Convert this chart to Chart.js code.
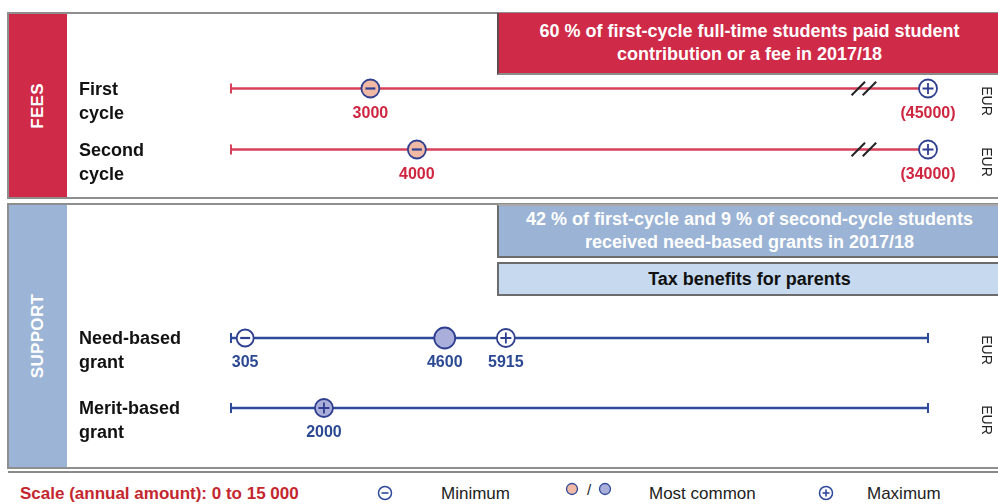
<!DOCTYPE html>
<html><head><meta charset="utf-8">
<script src="https://cdn.jsdelivr.net/npm/chart.js@4.4.0/dist/chart.umd.min.js"></script>
<style>
html,body{margin:0;padding:0;background:#fff;}
body{width:998px;height:504px;overflow:hidden;position:relative;font-family:'Liberation Sans',Arial,Helvetica,sans-serif;}
.abs{position:absolute;box-sizing:border-box;}
.panel{border:2px solid #8e8e8e;}
.band{color:#fff;font-weight:bold;font-size:17px;}
.band span{position:absolute;left:50%;top:50%;transform:translate(-50%,-50%) rotate(-90deg);white-space:nowrap;letter-spacing:0.3px;}
.hdr{font-weight:bold;font-size:18px;line-height:23px;text-align:center;display:flex;align-items:center;justify-content:center;}
.rowlbl{position:absolute;left:79px;font-weight:bold;font-size:18px;line-height:24px;color:#111;white-space:nowrap;}
.unit{position:absolute;font-size:14px;color:#222;transform:translate(-50%,-50%) rotate(90deg);white-space:nowrap;}
.leg{position:absolute;top:484px;font-size:17px;line-height:20px;color:#222;white-space:nowrap;}
canvas{position:absolute;left:0;}
</style></head><body>

<div class="abs panel" style="left:7px;top:12px;width:1000px;height:187px;"></div>
<div class="abs band" style="left:9px;top:14px;width:58px;height:183px;background:#cf2a48;"><span>FEES</span></div>
<div class="abs hdr" style="left:497px;top:13px;width:503px;height:62px;background:#cf2a48;color:#fff;border-left:2px solid #5e4a4f;border-bottom:2px solid #8a8a8a;">60 % of first-cycle full-time students paid student<br>contribution or a fee in 2017/18</div>

<div class="abs panel" style="left:7px;top:203px;width:1000px;height:266px;"></div>
<div class="abs band" style="left:9px;top:205px;width:58px;height:262px;background:#9cb4d6;"><span>SUPPORT</span></div>
<div class="abs hdr" style="left:497px;top:204px;width:503px;height:54px;background:#9bb3d4;color:#fff;border:2px solid #6c6c6c;border-top-color:#a8a8a8;border-right:none;">42 % of first-cycle and 9 % of second-cycle students<br>received need-based grants in 2017/18</div>
<div class="abs hdr" style="left:497px;top:262px;width:503px;height:34px;background:#c6d9ef;color:#111;border:2px solid #6c6c6c;border-right:none;">Tax benefits for parents</div>

<div class="abs" style="left:8px;top:471px;width:990px;height:2px;background:#8a8a8a;"></div>

<canvas id="fees" width="998" height="160" style="top:40px;"></canvas>
<canvas id="support" width="998" height="170" style="top:290px;"></canvas>

<div class="leg" style="left:20px;color:#c4262e;font-weight:bold;">Scale (annual amount): 0 to 15 000</div>
<svg class="abs" style="left:376px;top:484px;" width="18" height="18"><circle cx="9" cy="9" r="6.5" fill="#fff" stroke="#2e4a9a" stroke-width="1.5"/><line x1="5.5" y1="9" x2="12.5" y2="9" stroke="#2e4a9a" stroke-width="1.6"/></svg>
<div class="leg" style="left:441px;">Minimum</div>
<svg class="abs" style="left:564px;top:481px;" width="50" height="18"><circle cx="8" cy="8" r="5.5" fill="#efb9a6" stroke="#2e4a9a" stroke-width="1.3"/><text x="25" y="14" font-size="15" text-anchor="middle" fill="#222" font-family="Liberation Sans, Arial">/</text><circle cx="41" cy="8" r="5.5" fill="#a9aedb" stroke="#2e4a9a" stroke-width="1.3"/></svg>
<div class="leg" style="left:649px;">Most common</div>
<svg class="abs" style="left:817px;top:484px;" width="18" height="18"><circle cx="9" cy="9" r="6.5" fill="#fff" stroke="#2e4a9a" stroke-width="1.5"/><line x1="5.5" y1="9" x2="12.5" y2="9" stroke="#2e4a9a" stroke-width="1.6"/><line x1="9" y1="5.5" x2="9" y2="12.5" stroke="#2e4a9a" stroke-width="1.6"/></svg>
<div class="leg" style="left:867px;">Maximum</div>

<script>
// ---- data ----
const scaleMin = 0;
const scaleMax = 15000;
const feeCategories = [['First', 'cycle'], ['Second', 'cycle']];
const feeMin = [3000, 4000];
const feeMax = [45000, 34000];
const grantCategories = [['Need-based', 'grant'], ['Merit-based', 'grant']];
const grantMin = [305, null];
const grantCommon = [4600, null];
const grantMax = [5915, 2000];
const unitLabel = 'EUR';

// ---- styles ----
const RED = '#d6405a', RED_TXT = '#cf2640', BLUE = '#2e4a9a', BLUE_TXT = '#2b4992';
const PEACH = '#efb9a6', LAV = '#a9aedb', MARK = '#2f3f8f';
const FONT = "'Liberation Sans', Arial, sans-serif";

const catName = c => c.join(' ');

function pts(cats, vals, fmt) {
  const out = [];
  vals.forEach((v, i) => {
    if (v == null) return;
    out.push({ x: Math.min(v, scaleMax), y: catName(cats[i]), lbl: fmt ? fmt(v) : null });
  });
  return out;
}
const fmtVal = v => (v > scaleMax ? '(' + v + ')' : String(v));

const valueLabelPlugin = {
  id: 'valueLabels',
  afterDatasetsDraw(chart) {
    const ctx = chart.ctx;
    ctx.save();
    ctx.font = 'bold 16px ' + FONT;
    ctx.textAlign = 'center';
    ctx.textBaseline = 'middle';
    chart.data.datasets.forEach((ds, di) => {
      if (!ds.labelColor) return;
      const meta = chart.getDatasetMeta(di);
      ctx.fillStyle = ds.labelColor;
      ds.data.forEach((d, i) => {
        if (!d.lbl) return;
        const el = meta.data[i];
        ctx.fillText(d.lbl, el.x, el.y + 25);
      });
    });
    ctx.restore();
  }
};

function rowLine(c, color) {
  return { data: [{ x: scaleMin, y: catName(c) }, { x: scaleMax, y: catName(c) }], showLine: true, borderColor: color,
           borderWidth: 2.6, pointRadius: 0, clip: false };
}
function markerSet(data, style, opts) {
  return Object.assign({ data, pointStyle: style, clip: false, showLine: false }, opts);
}

function makeChart(id, cats, datasets, pad) {
  const chart = new Chart(document.getElementById(id), {
    type: 'scatter',
    data: { labels: cats.map(catName), datasets },
    options: {
      responsive: false, animation: false, events: [],
      layout: { padding: pad },
      plugins: { legend: { display: false }, tooltip: { enabled: false } },
      scales: {
        x: { type: 'linear', min: scaleMin, max: scaleMax, display: false },
        y: { type: 'category', offset: true, display: false }
      }
    },
    plugins: [valueLabelPlugin]
  });
  const top = parseFloat(document.getElementById(id).style.top);
  cats.forEach((c, i) => {
    const y = chart.scales.y.getPixelForValue(i) + top;
    const d = document.createElement('div');
    d.className = 'rowlbl';
    d.style.top = (y - 12) + 'px';
    d.innerHTML = c.join('<br>');
    document.body.appendChild(d);
    const u = document.createElement('div');
    u.className = 'unit';
    u.style.left = '987px';
    u.style.top = (y + 12) + 'px';
    u.textContent = unitLabel;
    document.body.appendChild(u);
  });
  return chart;
}

// ---- fees ----
const feeBreaks = [];
feeMax.forEach((v, i) => {
  if (v > scaleMax) {
    feeBreaks.push({ x: scaleMax * 0.9, y: catName(feeCategories[i]) }, { x: scaleMax * 0.916, y: catName(feeCategories[i]) });
  }
});
const feeDatasets = [
  markerSet(pts(feeCategories, feeMin), 'line', { pointRadius: 5, borderColor: MARK, pointBorderWidth: 2.2 }),
  markerSet(pts(feeCategories, feeMax), 'cross', { pointRadius: 5.5, borderColor: MARK, pointBorderWidth: 1.8 }),
  markerSet(pts(feeCategories, feeMin, fmtVal), 'circle', { pointRadius: 9, backgroundColor: PEACH, borderColor: MARK, pointBorderWidth: 1.8, labelColor: RED_TXT }),
  markerSet(pts(feeCategories, feeMax, fmtVal), 'circle', { pointRadius: 9, backgroundColor: '#fff', borderColor: MARK, pointBorderWidth: 1.8, labelColor: RED_TXT }),
  markerSet(feeBreaks, 'line', { pointRadius: 9.5, pointRotation: -45, borderColor: '#222', pointBorderWidth: 2 }),
  markerSet(feeCategories.map(c => ({ x: scaleMin, y: catName(c) })), 'line', { pointRadius: 5, pointRotation: 90, borderColor: RED, pointBorderWidth: 2 }),
  ...feeCategories.map(c => rowLine(c, RED))
];
makeChart('fees', feeCategories, feeDatasets, { left: 231, right: 70, top: 18, bottom: 20 });

// ---- support ----
const maxPts = pts(grantCategories, grantMax, fmtVal);
const maxFill = grantMax.map((v, i) => (grantMin[i] == null && grantCommon[i] == null ? LAV : '#fff')).filter((f, i) => grantMax[i] != null);
const grantDatasets = [
  markerSet(pts(grantCategories, grantMin), 'line', { pointRadius: 5, borderColor: MARK, pointBorderWidth: 2.2 }),
  markerSet(pts(grantCategories, grantMax), 'cross', { pointRadius: 5.5, borderColor: MARK, pointBorderWidth: 1.8 }),
  markerSet(pts(grantCategories, grantMin, fmtVal), 'circle', { pointRadius: 8.5, backgroundColor: '#fff', borderColor: MARK, pointBorderWidth: 1.8, labelColor: BLUE_TXT }),
  markerSet(pts(grantCategories, grantCommon, fmtVal), 'circle', { pointRadius: 10.5, backgroundColor: LAV, borderColor: MARK, pointBorderWidth: 1.8, labelColor: BLUE_TXT }),
  markerSet(maxPts, 'circle', { pointRadius: 9, backgroundColor: maxFill, borderColor: MARK, pointBorderWidth: 1.8, labelColor: BLUE_TXT }),
  markerSet(grantCategories.flatMap(c => [{ x: scaleMin, y: catName(c) }, { x: scaleMax, y: catName(c) }]), 'line', { pointRadius: 5, pointRotation: 90, borderColor: BLUE, pointBorderWidth: 2 }),
  ...grantCategories.map(c => rowLine(c, BLUE))
];
makeChart('support', grantCategories, grantDatasets, { left: 231, right: 70, top: 13, bottom: 17 });
</script>
</body></html>
